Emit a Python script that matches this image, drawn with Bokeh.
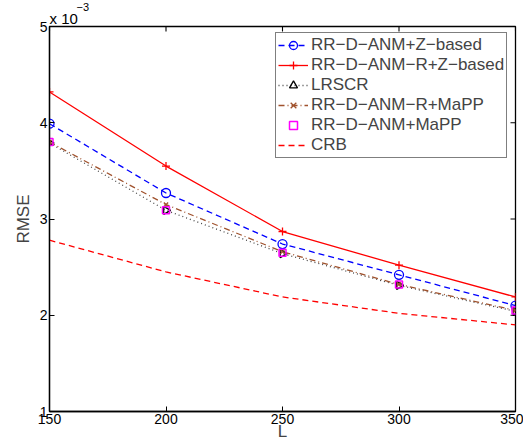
import numpy as np
from bokeh.plotting import figure
from bokeh.models import Range1d, FixedTicker, Legend, ColumnDataSource, Title
from bokeh.embed import file_html
from bokeh.resources import INLINE

# Data (RMSE in units of 1e-3)
L = [150, 200, 250, 300, 350]
anm_z = [3.99, 3.27, 2.74, 2.42, 2.10]
anm_r_z = [4.32, 3.55, 2.87, 2.52, 2.19]
lrscr = [3.79, 3.09, 2.64, 2.31, 2.04]
anm_r_mapp = [3.80, 3.15, 2.66, 2.32, 2.05]
anm_mapp = [3.80, 3.09, 2.65, 2.32, 2.05]
crb = [2.78, 2.45, 2.19, 2.02, 1.90]

x_ticks = [150, 200, 250, 300, 350]
y_ticks = [1, 2, 3, 4, 5]

FONT = "Liberation Sans"

p = figure(width=523, height=444, output_backend="svg", toolbar_location=None,
           x_range=Range1d(x_ticks[0], x_ticks[-1]), y_range=Range1d(y_ticks[0], y_ticks[-1]),
           min_border_left=49, min_border_right=8, min_border_top=26, min_border_bottom=33)
p.grid.visible = False
p.outline_line_color = "black"
p.outline_line_width = 1.3

# exponent note above the y axis: "x 10^-3" (superscript in the outer row)
p.title.text = "\u22123"
p.title.text_font = FONT
p.title.text_font_size = "11px"
p.title.text_font_style = "normal"
p.title.text_color = "black"
p.title.align = "left"
p.title.offset = 27
p.title.standoff = -6
p.title.text_line_height = 1.0
base = Title(text="x 10", text_font=FONT, text_font_size="15px", text_font_style="normal",
             text_color="black", align="left", offset=0, standoff=0, text_line_height=1.0)
p.add_layout(base, "above")

for ax in (p.xaxis[0], p.yaxis[0]):
    ax.major_tick_in = 5
    ax.major_tick_out = 0
    ax.minor_tick_in = 0
    ax.minor_tick_out = 0
    ax.axis_line_color = "black"
    ax.axis_line_width = 1.3
    ax.major_label_text_font = FONT
    ax.major_label_text_font_size = "14px"
    ax.major_label_text_color = "black"
    ax.axis_label_text_font = FONT
    ax.axis_label_text_font_size = "17px"
    ax.axis_label_text_font_style = "normal"

p.xaxis.ticker = FixedTicker(ticks=x_ticks)
p.yaxis.ticker = FixedTicker(ticks=y_ticks)
p.xaxis.axis_label = "L"
p.yaxis.axis_label = "RMSE"
p.xaxis.major_label_standoff = 2
p.yaxis.major_label_standoff = 2
p.xaxis.axis_label_standoff = -5
p.yaxis.axis_label_standoff = 4

# Opposite-side tick marks (MATLAB box style), clipped to the frame
p.scatter(x_ticks, [y_ticks[-1]] * len(x_ticks), marker="dash", angle=np.pi / 2,
          size=10, line_color="black", line_width=1.1)
p.scatter([x_ticks[-1]] * len(y_ticks), y_ticks, marker="dash",
          size=10, line_color="black", line_width=1.1)

r1 = p.line(L, anm_z, line_color="blue", line_dash="6 4", line_width=1.3)
m1 = p.scatter(L, anm_z, marker="circle", size=9, fill_color=None, line_color="blue", line_width=1.3)
r2 = p.line(L, anm_r_z, line_color="red", line_width=1.3)
m2 = p.scatter(L, anm_r_z, marker="cross", size=8, line_color="red", line_width=1.3)
r3 = p.line(L, lrscr, line_color="#444444", line_dash="1 3", line_width=1.3)
tri_src = ColumnDataSource(dict(x=L, y=lrscr, ang=[-np.pi / 2] * len(L)))
m3 = p.scatter("x", "y", source=tri_src, marker="triangle", angle="ang", size=8,
               fill_color=None, line_color="black", line_width=1.3)
r4 = p.line(L, anm_r_mapp, line_color="#A0522D", line_dash="6 3 1 3", line_width=1.3)
m4 = p.scatter(L, anm_r_mapp, marker="x", size=6, line_color="#A0522D", line_width=1.3)
m5 = p.scatter(L, anm_mapp, marker="square", size=7, fill_color=None, line_color="magenta", line_width=1.5)
r6 = p.line(L, crb, line_color="red", line_dash="6 4", line_width=1.3)

legend = Legend(items=[
    ("RR\u2212D\u2212ANM+Z\u2212based", [r1, m1]),
    ("RR\u2212D\u2212ANM\u2212R+Z\u2212based", [r2, m2]),
    ("LRSCR", [r3, m3]),
    ("RR\u2212D\u2212ANM\u2212R+MaPP", [r4, m4]),
    ("RR\u2212D\u2212ANM+MaPP", [m5]),
    ("CRB", [r6]),
], location=(226, 253))
legend.label_text_font = FONT
legend.label_text_font_size = "17px"
legend.label_height = 20
legend.glyph_height = 20
legend.glyph_width = 30
legend.spacing = 0
legend.padding = 2
legend.margin = 0
legend.label_standoff = 3
legend.border_line_color = "black"
legend.border_line_width = 1.3
legend.background_fill_alpha = 1
p.add_layout(legend)

open("out.html", "w").write(file_html(p, INLINE))
